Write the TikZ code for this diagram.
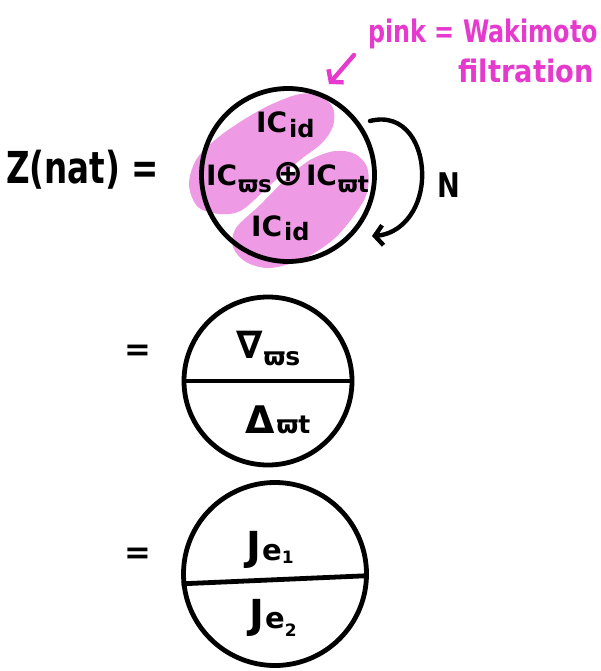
\documentclass[tikz,border=0pt]{standalone}
\usepackage{fontspec}
\setmainfont{DejaVu Sans}
\usetikzlibrary{arrows.meta}
\definecolor{pinkfill}{RGB}{239,154,228}
\definecolor{pinkink}{RGB}{229,58,205}
\newcommand\hsz[2]{{\fontsize{#1}{#1}\selectfont #2}}
\newcommand\lowr[3]{\raisebox{-#1pt}{\fontsize{#2}{#2}\selectfont #3}}
\begin{document}
\begin{tikzpicture}[x=1pt,y=-1pt, line cap=round, line join=round,
  ink/.style={line width=4.4pt},
  ring/.style={circle, draw, line width=4.8pt, inner sep=0pt},
  txt/.style={inner sep=0pt, font=\bfseries},
  pinktxt/.style={txt, text=pinkink},
  barb/.style={-{Straight Barb[length=8pt,width=20pt]}}
]
\fill[white] (0,0) rectangle (600,671);
\useasboundingbox (0,0) rectangle (600,671);

% Wakimoto filtration blobs
\fill[pinkfill] plot[smooth cycle, tension=0.55] coordinates {
 (189,185) (196,160) (215,140) (240,122) (270,105) (300,94) (320,96)
 (333,108) (333,126) (322,143) (300,160) (270,185) (242,210) (220,214) (198,207)};
\fill[pinkfill] plot[smooth cycle, tension=0.55] coordinates {
 (236,228) (260,205) (285,180) (310,160) (335,151) (355,154) (367,167)
 (368,188) (360,207) (335,238) (303,259) (270,268) (246,262) (233,247)};

% circles
\node[ring, minimum size=173pt] (c1) at (288,175) {};
\node[ring, minimum size=168pt] (c2) at (268,381) {};
\node[ring, minimum size=183pt] (c3) at (275,574) {};
\draw[line width=4.8pt, line cap=butt] (c2.west) -- (c2.east);
\draw[line width=4.8pt, line cap=butt] (c3.186) -- (c3.359);

% left labels
\node[txt, anchor=base west] (z) at (6,183)
  {\scalebox{0.74}[1]{\hsz{44}{Z(nat) =}}};
\node[txt, anchor=base west] (eq2) at (124,360) {\hsz{32}{=}};
\node[txt, anchor=base west] (eq3) at (124,563) {\hsz{32}{=}};

% labels in circle 1
\node[txt, anchor=base west] (ic1) at (256,133)
  {\hsz{28}{IC\kern2pt\lowr{5}{24}{id}}};
\node[txt, anchor=base west] (ic2) at (206,185)
  {\hsz{28}{IC\kern1pt\lowr{7}{23}{ϖs}\kern2pt\raisebox{-1pt}{\hsz{36}{⊕}}\kern2pt IC\kern1pt\lowr{7}{23}{ϖt}}};
\node[txt, anchor=base west] (ic3) at (251,236)
  {\hsz{28}{IC\kern2pt\lowr{4}{24}{id}}};

% labels in circle 2
\node[txt, anchor=base west] (nab) at (236,358)
  {\hsz{38}{∇\kern1pt\lowr{7}{25}{ϖs}}};
\node[txt, anchor=base west] (del) at (245,433)
  {\hsz{38}{Δ\kern2pt\lowr{0}{25}{ϖt}}};

% labels in circle 3
\node[txt, anchor=base west] (j1) at (246,560)
  {\hsz{40}{J\kern1pt\lowr{0}{29}{e\lowr{3}{17}{1}}}};
\node[txt, anchor=base west] (j2) at (249,628)
  {\hsz{40}{J\kern1pt\lowr{0}{29}{e\lowr{8}{17}{2}}}};

% N loop arrow
\coordinate (nA) at (370,121);
\coordinate (nB) at (372,236);
\draw[ink, barb] (nA) .. controls (405,112) and (424,145) .. (422,180)
  .. controls (420,212) and (400,234) .. (nB);
\node[txt, anchor=base west] (N) at (437,197)
  {\scalebox{0.8}[1]{\hsz{34}{N}}};

% pink annotation
\node[pinktxt, anchor=base east] (pk) at (598,43)
  {\scalebox{0.77}[1]{\hsz{31}{pink = Wakimoto}}};
\node[pinktxt, anchor=base east] (fl) at (594,83)
  {\scalebox{0.88}[1]{\hsz{31}{filtration}}};
\coordinate (pA) at (354,55);
\coordinate (pB) at (329,84);
\draw[ink, pinkink, barb] (pA) -- (pB);
\end{tikzpicture}
\end{document}
